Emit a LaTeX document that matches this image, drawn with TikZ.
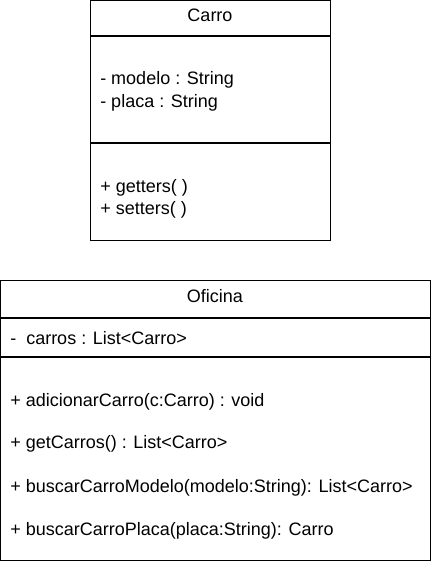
\documentclass[tikz,border=0pt]{standalone}
\usepackage{fontspec}
\setmainfont{Liberation Sans}
\begin{document}
\begin{tikzpicture}[x=0.75pt,y=-0.75pt,
  every node/.style={inner sep=0pt,font=\fontsize{13.5}{16}\selectfont},
  txt/.style={anchor=base west},
  ttl/.style={anchor=base},
  frame/.style={draw=black,line width=0.75pt},
  divider/.style={draw=black,line width=1.2pt}]
\useasboundingbox (0,0) rectangle (431,561);
% Carro
\draw[frame] (90.5,0.5) rectangle (330,240);
\draw[divider] (90.5,36) -- (330,36);
\draw[divider] (90.5,143) -- (330,143);
\node[ttl] (carro) at (210,21) {Carro};
\node[txt] (modelo) at (100,84) {- modelo : String};
\node[txt] (placa) at (100,107) {- placa : String};
\node[txt] (getters) at (100,192) {+ getters( )};
\node[txt] (setters) at (100,214) {+ setters( )};
% Oficina
\draw[frame] (0.5,280.5) rectangle (430.5,560.5);
\draw[divider] (0.5,318) -- (430.5,318);
\draw[divider] (0.5,357) -- (430.5,357);
\node[ttl] (oficina) at (215,302) {Oficina};
\node[txt] (carros) at (10,344.5) {-\ \ carros : List<Carro>};
\node[txt] (m1) at (10,406.5) {+ adicionarCarro(c:Carro) : void};
\node[txt] (m2) at (10,448.5) {+ getCarros() : List<Carro>};
\node[txt] (m3) at (10,492.5) {+ buscarCarroModelo(modelo:String): List<Carro>};
\node[txt] (m4) at (10,535.5) {+ buscarCarroPlaca(placa:String): Carro};
\end{tikzpicture}
\end{document}
